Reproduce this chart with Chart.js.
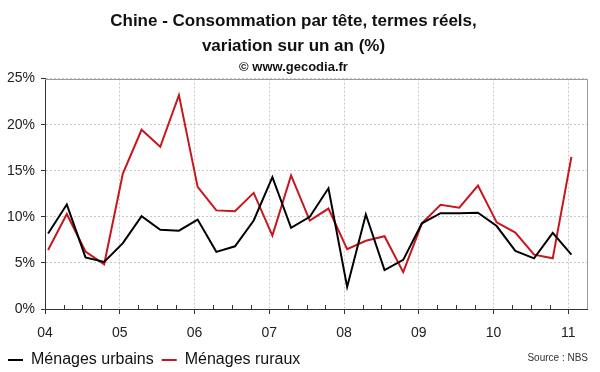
<!DOCTYPE html>
<html>
<head>
<meta charset="utf-8">
<script src="https://cdn.jsdelivr.net/npm/chart.js@4"></script>
<style>
  html, body { margin: 0; padding: 0; background: #fff; }
</style>
</head>
<body>
<canvas id="conso-chart" width="600" height="372"></canvas>
<script>
// Quarterly data, year-on-year change (%)
var quarters = [
    '2004-T1', '2004-T2', '2004-T3', '2004-T4',
    '2005-T1', '2005-T2', '2005-T3', '2005-T4',
    '2006-T1', '2006-T2', '2006-T3', '2006-T4',
    '2007-T1', '2007-T2', '2007-T3', '2007-T4',
    '2008-T1', '2008-T2', '2008-T3', '2008-T4',
    '2009-T1', '2009-T2', '2009-T3', '2009-T4',
    '2010-T1', '2010-T2', '2010-T3', '2010-T4',
    '2011-T1'
];
var urbains = [8.2, 11.35, 5.6, 5.1, 7.15, 10.07, 8.6, 8.5,
               9.7, 6.2, 6.8, 9.6, 14.3, 8.8, 10.0, 13.1,
               2.4, 10.26, 4.23, 5.33, 9.3, 10.4, 10.4, 10.45,
               9.0, 6.3, 5.5, 8.25, 5.9];
var ruraux = [6.4, 10.3, 6.24, 4.85, 14.7, 19.45, 17.6, 23.2,
              13.25, 10.7, 10.6, 12.6, 7.96, 14.5, 9.6, 10.9,
              6.5, 7.4, 7.9, 4.0, 9.3, 11.3, 11.0, 13.4,
              9.4, 8.3, 5.9, 5.5, 16.5];
var years = [2004, 2005, 2006, 2007, 2008, 2009, 2010, 2011];
var yTicks = [0, 5, 10, 15, 20, 25];

// quarter string -> position on a year axis (mid of first month of the quarter)
function quarterPos(q) {
    var p = q.split('-T');
    return Number(p[0]) + (Number(p[1]) - 1) / 4 + 1 / 24;
}
function toPoints(values) {
    return quarters.map(function (q, i) { return { x: quarterPos(q), y: values[i] }; });
}

Chart.defaults.font.family = "'Liberation Sans', Arial, sans-serif";
Chart.defaults.color = '#222';

// frame on top/right, small quarter ticks, source note
var decorations = {
    id: 'decorations',
    afterDraw: function (chart) {
        var ctx = chart.ctx, ca = chart.chartArea, xs = chart.scales.x;
        ctx.save();
        ctx.lineWidth = 1;
        ctx.strokeStyle = '#9a9a9a';
        ctx.beginPath();
        var top = Math.round(ca.top) + 0.5, right = Math.round(ca.right) + 0.5;
        ctx.moveTo(Math.round(ca.left), top);
        ctx.lineTo(right, top);
        ctx.lineTo(right, Math.round(ca.bottom));
        ctx.stroke();

        ctx.strokeStyle = '#333';
        ctx.beginPath();
        for (var v = xs.min + 0.25; v < xs.max; v += 0.25) {
            if (Math.abs(v - Math.round(v)) < 1e-6) continue;
            var px = Math.round(xs.getPixelForValue(v)) + 0.5;
            ctx.moveTo(px, ca.bottom);
            ctx.lineTo(px, ca.bottom - 4);
        }
        ctx.stroke();

        ctx.fillStyle = '#333';
        ctx.font = "10px 'Liberation Sans', Arial, sans-serif";
        ctx.textAlign = 'right';
        ctx.textBaseline = 'middle';
        ctx.fillText('Source : NBS', 588, 358);
        ctx.restore();
    }
};

var ctx = document.getElementById('conso-chart').getContext('2d');

var consoChart = new Chart(ctx, {
    type: 'line',
    data: {
        datasets: [{
            label: 'Ménages urbains',
            data: toPoints(urbains),
            borderColor: '#000000',
            backgroundColor: '#000000',
            borderWidth: 2,
            pointRadius: 0,
            tension: 0
        }, {
            label: 'Ménages ruraux',
            data: toPoints(ruraux),
            borderColor: '#c8161d',
            backgroundColor: '#c8161d',
            borderWidth: 2,
            pointRadius: 0,
            tension: 0
        }]
    },
    options: {
        responsive: false,
        animation: false,
        layout: { padding: { left: 0, right: 13, top: 0, bottom: -6 } },
        scales: {
            x: {
                type: 'linear',
                min: 2004,
                max: 2011.25,
                afterBuildTicks: function (s) { s.ticks = years.map(function (v) { return { value: v }; }); },
                afterFit: function (s) { s.height = 35; },
                ticks: {
                    callback: function (v) { return String(v).slice(2); },
                    font: { size: 14 },
                    padding: 11,
                    maxRotation: 0,
                    autoSkip: false
                },
                grid: { color: '#c8c8c8', tickColor: '#333', tickLength: 5 },
                border: { color: '#333', dash: [2, 2] }
            },
            y: {
                min: 0,
                max: 25,
                afterBuildTicks: function (s) { s.ticks = yTicks.map(function (v) { return { value: v }; }); },
                afterFit: function (s) { s.width = 45; },
                ticks: {
                    callback: function (v) { return v + '%'; },
                    font: { size: 14 },
                    padding: 6
                },
                grid: { color: '#c8c8c8', tickColor: '#333', tickLength: 4 },
                border: { color: '#333', dash: [2, 2] }
            }
        },
        plugins: {
            title: {
                display: true,
                text: ['Chine - Consommation par tête, termes réels,', 'variation sur un an (%)'],
                color: '#111',
                font: { size: 17, weight: 'bold', lineHeight: 1.47 },
                padding: { top: 9, bottom: 0 }
            },
            subtitle: {
                display: true,
                text: '© www.gecodia.fr',
                color: '#111',
                font: { size: 13, weight: 'bold', lineHeight: 1.2 },
                padding: { top: 1, bottom: 3 }
            },
            legend: {
                position: 'bottom',
                align: 'start',
                labels: {
                    boxWidth: 15,
                    boxHeight: 2,
                    padding: 8,
                    color: '#111',
                    font: { size: 16 },
                    generateLabels: function (chart) {
                        var items = Chart.defaults.plugins.legend.labels.generateLabels(chart);
                        items.forEach(function (it) { it.lineWidth = 0; });
                        return items;
                    }
                }
            },
            tooltip: { enabled: false }
        }
    },
    plugins: [decorations]
});
</script>
</body>
</html>
